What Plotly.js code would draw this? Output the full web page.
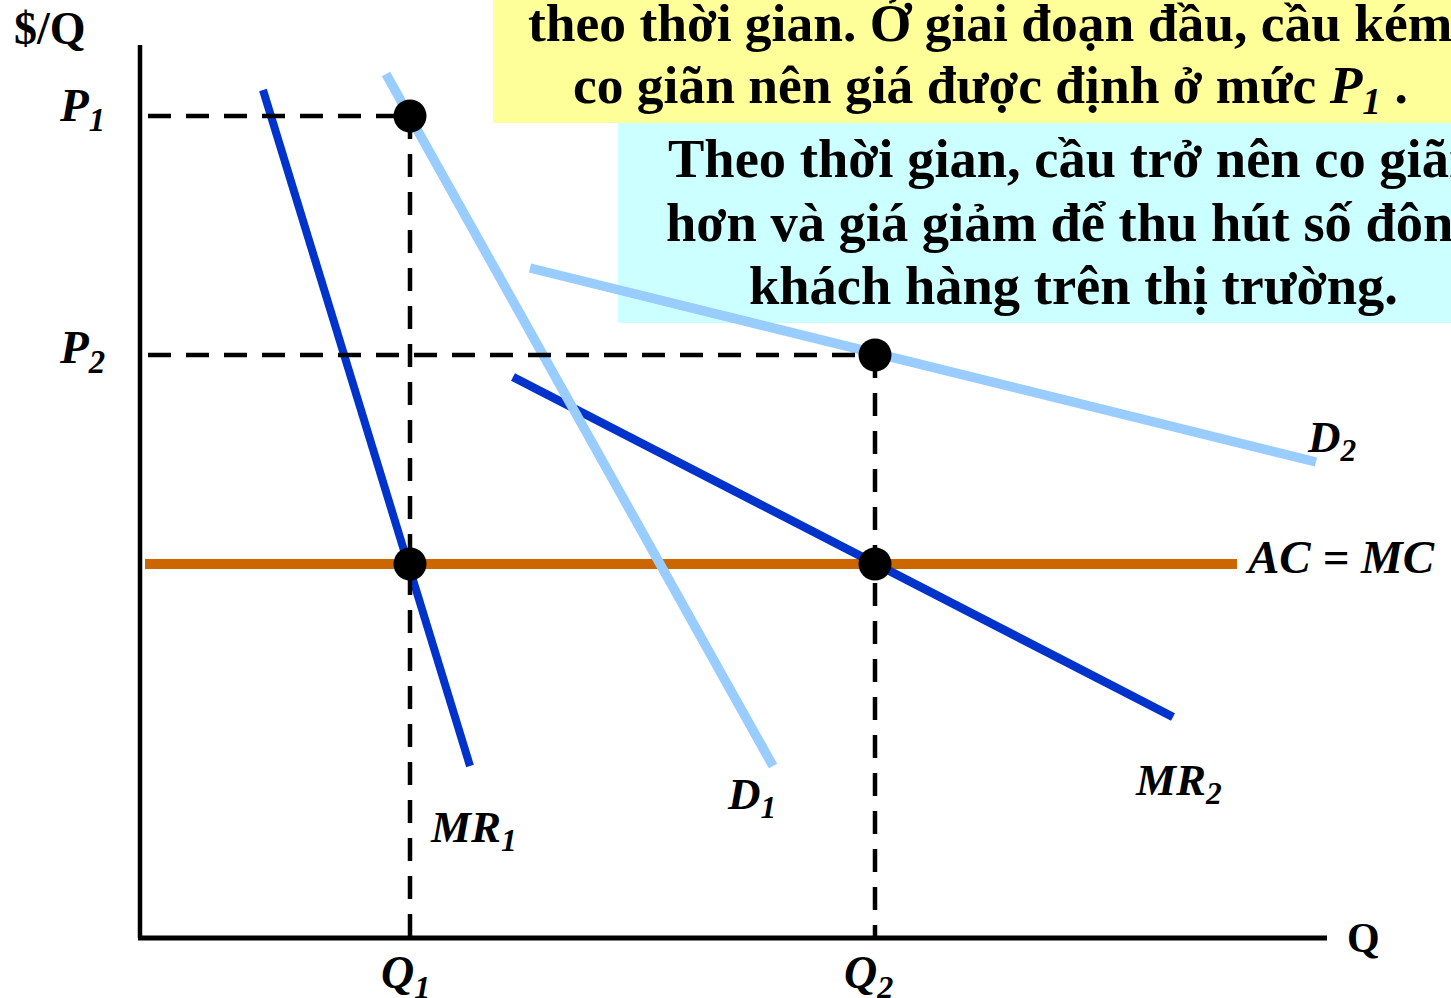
<!DOCTYPE html>
<html>
<head>
<meta charset="utf-8">
<script src="https://cdn.plot.ly/plotly-3.0.1.min.js"></script>
<style>html,body{margin:0;padding:0;background:#fff;}#chart{width:1451px;height:998px;}</style>
</head>
<body>
<div id="chart"></div>
<script>
// ---- data (Q on x, $/Q on y, arbitrary units) ----
const Q_levels = [27, 73.5];            // Q1, Q2
const P_levels = [82.2, 58.3];          // P1, P2
const MC_level = 37.4;                  // AC = MC
const MC_Q = [0.5, 109.7];
const MR1_Q = [12.3, 33.0];  const MR1_P = [84.8, 17.2];
const D1_Q  = [24.6, 63.3];  const D1_P  = [86.4, 17.2];
const D2_Q  = [39.0, 117.6]; const D2_P  = [67.0, 47.6];
const MR2_Q = [37.3, 103.3]; const MR2_P = [56.1, 22.1];
const axisQmax = 118.7, axisPmax = 89.3;
const yellowText = ["theo thời gian. Ở giai đoạn đầu, cầu kém",
                    "co giãn nên giá được định ở mức <i>P<sub>1</sub></i> ."];
const cyanText = ["Theo thời gian, cầu trở nên co giãn",
                  "hơn và giá giảm để thu hút số đông",
                  "khách hàng trên thị trường."];

const BLUE = '#0033CC', LIGHT = '#99CCFF', ORANGE = '#CC6600';
const FONT = 'Liberation Serif, Times New Roman, serif';

const traces = [];
function line(x, y, color, width, dash) {
  traces.push({x: x, y: y, type: 'scatter', mode: 'lines', hoverinfo: 'skip',
    line: {color: color, width: width, dash: dash || 'solid'}});
}
line(MC_Q, [MC_level, MC_level], ORANGE, 10);
line(MR1_Q, MR1_P, BLUE, 8);
line(MR2_Q, MR2_P, BLUE, 8.5);
line(D1_Q, D1_P, LIGHT, 9.5);
line(D2_Q, D2_P, LIGHT, 9.5);
// dashed guides
for (let i = 0; i < 2; i++) {
  line([0.8, Q_levels[i]], [P_levels[i], P_levels[i]], '#000', 4.5, '23px,15px');
  line([Q_levels[i], Q_levels[i]], [P_levels[i], 0], '#000', 4.5, '23px,15px');
}
// axes
line([0, 0], [axisPmax, 0], '#000', 4.5);
line([-0.2, axisQmax], [0, 0], '#000', 5);
// points
traces.push({x: [Q_levels[0], Q_levels[1], Q_levels[0], Q_levels[1]],
  y: [P_levels[0], P_levels[1], MC_level, MC_level],
  type: 'scatter', mode: 'markers', hoverinfo: 'skip',
  marker: {color: '#000', size: 33}});

const ann = [];
function label(text, x, y, size, xanchor) {
  ann.push({x: x, y: y, xref: 'x', yref: 'y', text: text, showarrow: false,
    xanchor: xanchor || 'center', yanchor: 'middle',
    font: {family: FONT, size: size, color: '#000'}});
}
label('<b>$/Q</b>', -9.0, 91.0, 46);
label('<b><i>P<sub>1</sub></i></b>', -3.3, 83.0, 47, 'right');
label('<b><i>P<sub>2</sub></i></b>', -3.3, 58.8, 47, 'right');
label('<b><i>Q<sub>1</sub></i></b>', 26.5, -3.8, 46);
label('<b><i>Q<sub>2</sub></i></b>', 72.8, -3.8, 46);
label('<b>Q</b>', 120.5, 0, 42, 'left');
label('<b><i>MR<sub>1</sub></i></b>', 28.8, 10.8, 45, 'left');
label('<b><i>D<sub>1</sub></i></b>', 58.5, 14.1, 45, 'left');
label('<b><i>MR<sub>2</sub></i></b>', 99.3, 15.5, 45, 'left');
label('<b><i>D<sub>2</sub></i></b>', 116.5, 49.8, 45, 'left');
label('<b><i>AC = MC</i></b>', 110.3, 38.1, 47, 'left');
const yellowY = [91.5, 85.0], cyanY = [78.0, 71.6, 65.3];
yellowText.forEach((t, i) => label('<b>' + t + '</b>', 85.0, yellowY[i], 53.5));
cyanText.forEach((t, i) => label('<b>' + t + '</b>', 93.3, cyanY[i], 54.5));

const layout = {
  width: 1451, height: 998, margin: {l: 0, r: 0, t: 0, b: 0},
  paper_bgcolor: '#fff', plot_bgcolor: '#fff', showlegend: false,
  xaxis: {range: [-14, 131.1], visible: false, fixedrange: true},
  yaxis: {range: [-6, 93.8], visible: false, fixedrange: true},
  shapes: [
    {type: 'rect', xref: 'x', yref: 'y', x0: 35.3, x1: 131.1, y0: 81.5, y1: 93.8,
     fillcolor: '#FFFF99', line: {width: 0}, layer: 'below'},
    {type: 'rect', xref: 'x', yref: 'y', x0: 47.8, x1: 131.1, y0: 61.5, y1: 81.5,
     fillcolor: '#CCFFFF', line: {width: 0}, layer: 'below'}
  ],
  annotations: ann
};
Plotly.newPlot('chart', traces, layout, {displayModeBar: false, staticPlot: true});
</script>
</body>
</html>
